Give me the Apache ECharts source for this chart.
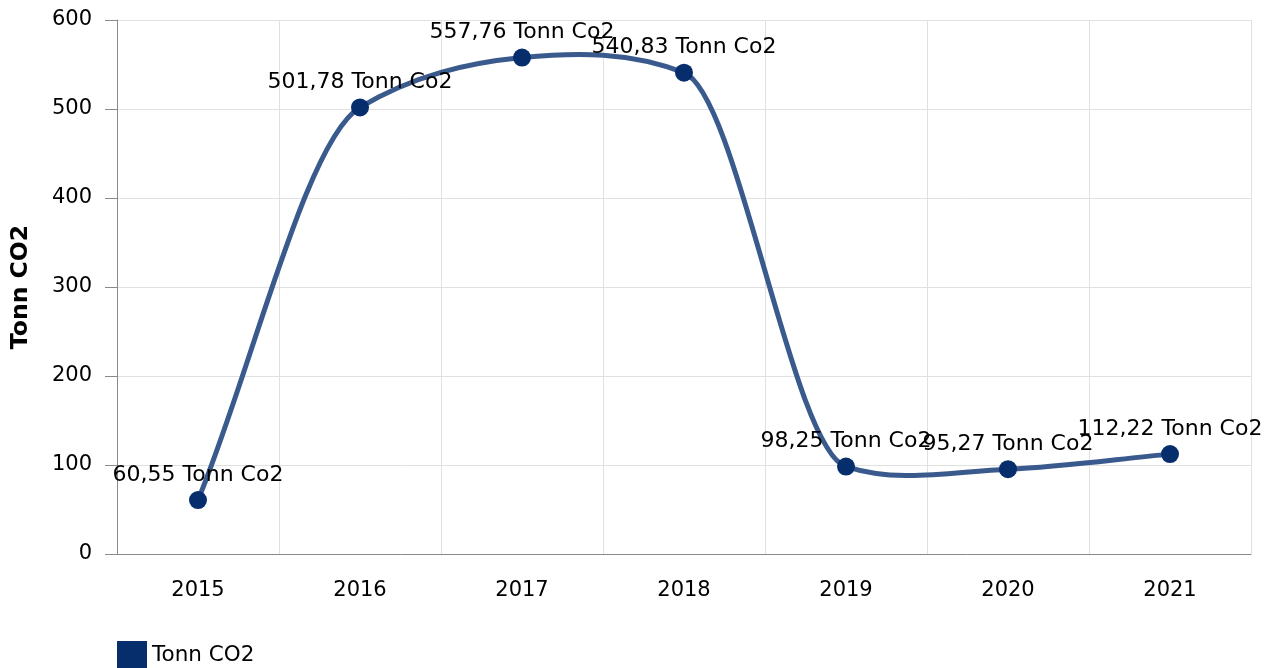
<!DOCTYPE html>
<html>
<head>
<meta charset="utf-8">
<script src="https://cdn.jsdelivr.net/npm/echarts@6/dist/echarts.min.js"></script>
<style>
	html, body { margin: 0; padding: 0; background: #fff; }
	#main { width: 1264px; height: 668px; }
</style>
</head>
<body>
<div id="main"></div>
<script>
var years = ['2015', '2016', '2017', '2018', '2019', '2020', '2021'];
var co2 = [60.55, 501.78, 557.76, 540.83, 98.25, 95.27, 112.22];
var seriesName = 'Tonn CO2';
var unitText = ' Tonn Co2';

var font = 'DejaVu Sans, Verdana, sans-serif';

function dist(a, b) {
	var dx = a[0] - b[0], dy = a[1] - b[1];
	return Math.sqrt(dx * dx + dy * dy);
}

// tangent slope at each point: chordal catmull-rom direction, chord at the ends
function slopes(pts) {
	var n = pts.length, s = [];
	for (var i = 0; i < n; i++) {
		if (i === 0) {
			s.push((pts[1][1] - pts[0][1]) / (pts[1][0] - pts[0][0]));
		} else if (i === n - 1) {
			s.push((pts[i][1] - pts[i - 1][1]) / (pts[i][0] - pts[i - 1][0]));
		} else {
			var p0 = pts[i - 1], p1 = pts[i], p2 = pts[i + 1];
			var l01 = dist(p0, p1), l12 = dist(p1, p2);
			var a = 2 * l01 * l01 + 3 * l01 * l12 + l12 * l12;
			var na = 3 * l01 * (l01 + l12);
			var cx = (p1[0] * a - p0[0] * l12 * l12 + p2[0] * l01 * l01) / na;
			var cy = (p1[1] * a - p0[1] * l12 * l12 + p2[1] * l01 * l01) / na;
			s.push((cy - p1[1]) / (cx - p1[0]));
		}
	}
	return s;
}

function splinePath(pts) {
	var s = slopes(pts);
	var d = 'M' + pts[0][0] + ',' + pts[0][1];
	for (var i = 0; i < pts.length - 1; i++) {
		var h = (pts[i + 1][0] - pts[i][0]) / 3;
		d += ' C' + (pts[i][0] + h) + ',' + (pts[i][1] + h * s[i]) +
			' ' + (pts[i + 1][0] - h) + ',' + (pts[i + 1][1] - h * s[i + 1]) +
			' ' + pts[i + 1][0] + ',' + pts[i + 1][1];
	}
	return d;
}

var myChart = echarts.init(document.getElementById('main'));
var option = {
	animation: false,
	textStyle: { fontFamily: font },
	grid: {
		left: 117,
		right: 13,
		top: 20,
		bottom: 114,
		containLabel: false
	},
	legend: {
		left: 112,
		top: 636,
		itemWidth: 30,
		itemHeight: 28,
		icon: 'rect',
		textStyle: { fontSize: 21.5, color: '#000', fontFamily: font },
		data: [seriesName]
	},
	xAxis: {
		type: 'category',
		boundaryGap: true,
		data: years,
		axisLine: { lineStyle: { color: '#8a8a8a', width: 1 } },
		axisTick: { alignWithLabel: true, length: 8, lineStyle: { color: '#8a8a8a' } },
		axisLabel: { fontSize: 21, color: '#000', margin: 26, fontFamily: font },
		splitLine: { show: true, lineStyle: { color: '#e0e0e0', width: 1 } }
	},
	yAxis: {
		type: 'value',
		min: 0,
		max: 600,
		interval: 100,
		name: 'Tonn CO2',
		nameLocation: 'middle',
		nameGap: 84,
		nameTextStyle: { fontSize: 23.5, fontWeight: 'bold', color: '#000', fontFamily: font },
		axisLine: { show: true, lineStyle: { color: '#8a8a8a', width: 1 } },
		axisTick: { show: true, length: 12, lineStyle: { color: '#8a8a8a' } },
		axisLabel: { fontSize: 21, color: '#000', margin: 25, fontFamily: font },
		splitLine: { lineStyle: { color: '#e0e0e0', width: 1 } }
	},
	series: [{
		type: 'custom',
		name: 'curve',
		z: 1,
		silent: true,
		data: [0],
		renderItem: function (params, api) {
			var pts = [];
			for (var i = 0; i < co2.length; i++) {
				pts.push(api.coord([i, co2[i]]));
			}
			return {
				type: 'path',
				shape: { pathData: splinePath(pts) },
				style: { stroke: '#3a5a8d', lineWidth: 5, fill: null, lineJoin: 'round', lineCap: 'round' }
			};
		}
	}, {
		name: seriesName,
		type: 'line',
		z: 3,
		data: co2,
		symbol: 'circle',
		symbolSize: 18,
		itemStyle: { color: '#062d6c' },
		lineStyle: { opacity: 0 },
		label: {
			show: true,
			position: 'top',
			distance: 5,
			fontSize: 22,
			color: '#000',
			fontFamily: font,
			formatter: function (p) {
				return p.value.toFixed(2).replace('.', ',') + unitText;
			}
		}
	}]
};
myChart.setOption(option);
</script>
</body>
</html>
